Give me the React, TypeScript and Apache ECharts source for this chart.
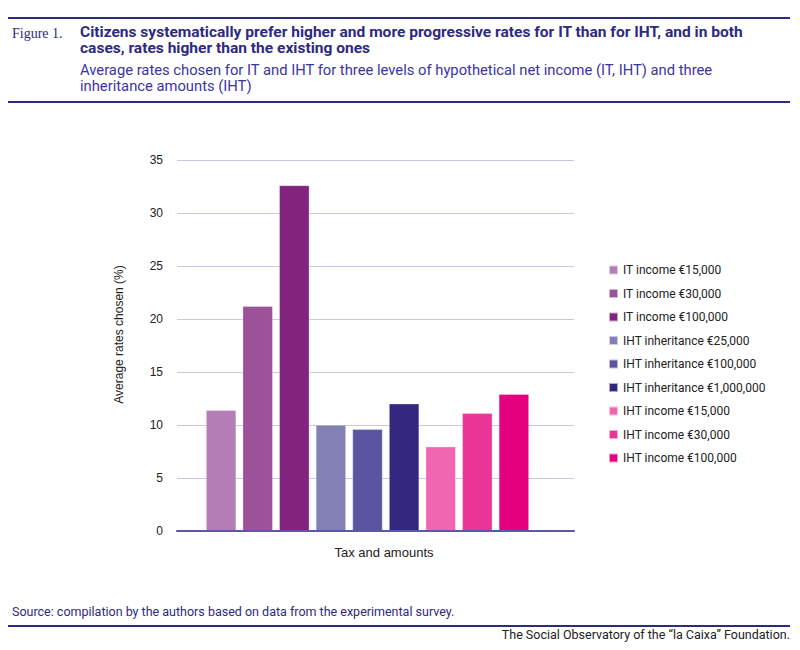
import React, { useEffect, useRef } from "react";
import * as echarts from "echarts";

const categories = ["Tax and amounts"];
const seriesNames = [
  "IT income €15,000",
  "IT income €30,000",
  "IT income €100,000",
  "IHT inheritance €25,000",
  "IHT inheritance €100,000",
  "IHT inheritance €1,000,000",
  "IHT income €15,000",
  "IHT income €30,000",
  "IHT income €100,000",
];
const seriesValues = [11.4, 21.2, 32.6, 10.0, 9.6, 12.0, 7.95, 11.1, 12.9];
const seriesColors = [
  "#b57db5",
  "#9b5299",
  "#82247d",
  "#8280b5",
  "#5b54a0",
  "#32287f",
  "#f066b1",
  "#ea3596",
  "#e5007e",
];
const yTicks = { min: 0, max: 35, interval: 5 };

const NAVY = "#2e2a7f";

export default function App() {
  const ref = useRef<HTMLDivElement>(null);
  useEffect(() => {
    if (!ref.current) return;
    const chart = echarts.init(ref.current, undefined, { renderer: "svg" });
    const series = seriesNames.map((name, i) => ({
      name,
      type: "bar",
      xAxisIndex: 1,
      yAxisIndex: 1,
      data: [seriesValues[i]],
      barWidth: 30,
      barGap: "22%",
      itemStyle: { color: seriesColors[i], borderColor: "rgba(255,255,255,0.6)", borderWidth: 0.5 },
    }));
    const font = "Liberation Sans";
    chart.setOption({
      animation: false,
      backgroundColor: "#ffffff",
      grid: [
        { left: 177, right: 226, top: 160, bottom: 119, containLabel: false },
        { left: 177, right: 242, top: 160, bottom: 119, containLabel: false },
      ],
      xAxis: [
        {
          type: "category",
          gridIndex: 0,
          data: categories,
          name: "Tax and amounts",
          nameLocation: "middle",
          nameGap: 15,
          nameTextStyle: { fontFamily: font, fontSize: 13, color: "#222", padding: [0, 0, 0, 17] },
          axisLabel: { show: false },
          axisTick: { show: false },
          axisLine: { lineStyle: { color: "#5c58a4", width: 2 } },
          z: 5,
        },
        {
          type: "category",
          gridIndex: 1,
          data: categories,
          show: false,
        },
      ],
      yAxis: [
        {
          type: "value",
          gridIndex: 0,
          min: yTicks.min,
          max: yTicks.max,
          interval: yTicks.interval,
          name: "Average rates chosen (%)",
          nameLocation: "middle",
          nameGap: 52,
          nameRotate: 90,
          nameTextStyle: { fontFamily: font, fontSize: 12, color: "#222", padding: [0, 0, 0, 22] },
          axisLabel: { fontFamily: font, fontSize: 12, color: "#222", margin: 14 },
          axisLine: { show: false },
          axisTick: { show: false },
          splitLine: { lineStyle: { color: "#cbc7e2", width: 1 } },
        },
        {
          type: "value",
          gridIndex: 1,
          min: yTicks.min,
          max: yTicks.max,
          interval: yTicks.interval,
          show: false,
        },
      ],
      legend: {
        orient: "vertical",
        left: 603,
        top: 259,
        itemWidth: 9,
        itemHeight: 9,
        itemGap: 11.5,
        icon: "rect",
        textStyle: { fontFamily: "Roboto", fontSize: 12, color: "#222" },
        data: seriesNames,
      },
      graphic: [
        { type: "line", shape: { x1: 8, y1: 18, x2: 790, y2: 18 }, style: { stroke: NAVY, lineWidth: 2 } },
        {
          type: "text",
          x: 12,
          y: 26,
          style: { text: "Figure 1.", fontFamily: "Liberation Serif", fontSize: 14, fill: NAVY },
        },
        {
          type: "text",
          x: 80,
          y: 24,
          scaleX: 1.036,
          style: {
            text: "Citizens systematically prefer higher and more progressive rates for IT than for IHT, and in both\ncases, rates higher than the existing ones",
            fontFamily: "Roboto",
            fontWeight: "bold",
            fontSize: 15,
            lineHeight: 16,
            fill: NAVY,
          },
        },
        {
          type: "text",
          x: 80,
          y: 63,
          scaleX: 1.055,
          style: {
            text: "Average rates chosen for IT and IHT for three levels of hypothetical net income (IT, IHT) and three\ninheritance amounts (IHT)",
            fontFamily: "Roboto",
            fontSize: 14,
            lineHeight: 16,
            fill: "#3a35a0",
          },
        },
        { type: "line", shape: { x1: 8, y1: 102, x2: 790, y2: 102 }, style: { stroke: NAVY, lineWidth: 2 } },
        {
          type: "text",
          x: 12,
          y: 605,
          style: {
            text: "Source: compilation by the authors based on data from the experimental survey.",
            fontFamily: "Roboto",
            fontSize: 12.5,
            fill: NAVY,
          },
        },
        { type: "line", shape: { x1: 8, y1: 626, x2: 790, y2: 626 }, style: { stroke: NAVY, lineWidth: 2 } },
        {
          type: "text",
          x: 790,
          y: 628,
          style: {
            text: "The Social Observatory of the “la Caixa” Foundation.",
            fontFamily: "Roboto",
            fontSize: 12.5,
            fill: "#222",
            align: "right",
          },
        },
      ],
      series,
    });
    return () => chart.dispose();
  }, []);
  return (
    <div
      ref={ref}
      style={{ position: "absolute", left: 0, top: 0, width: 800, height: 650 }}
    />
  );
}
